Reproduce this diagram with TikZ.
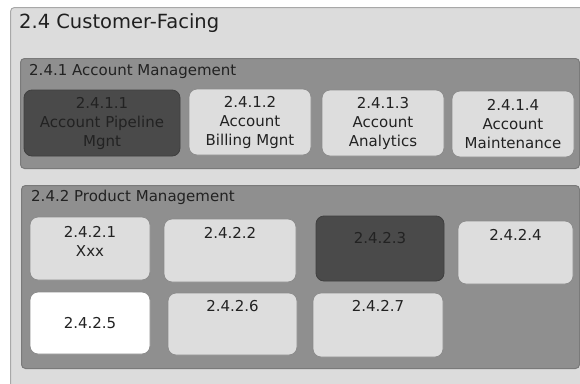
\documentclass[tikz,border=0pt]{standalone}
\usepackage{fontspec}
\setmainfont{DejaVu Sans}
\usetikzlibrary{positioning}

\definecolor{sheetfill}{HTML}{DCDCDC}
\definecolor{sheetline}{HTML}{A8A8A8}
\definecolor{groupfill}{HTML}{8F8F8F}
\definecolor{groupline}{HTML}{7A7A7A}
\definecolor{cellfill}{HTML}{DDDDDD}
\definecolor{cellline}{HTML}{8C8C8C}
\definecolor{celldark}{HTML}{4A4A4A}
\definecolor{inktext}{HTML}{222222}

\tikzset{
  sheet/.style={draw=sheetline, fill=sheetfill, line width=1pt, rounded corners=4pt,
    inner sep=0pt, anchor=north west},
  group/.style={draw=groupline, fill=groupfill, line width=1pt, rounded corners=4pt,
    inner sep=0pt, anchor=north west},
  heading/.style={anchor=west, inner sep=0pt, text=inktext},
  cell/.style={draw=cellline, fill=cellfill, line width=0.8pt, rounded corners=8pt,
    inner sep=0pt, align=center, text=inktext, font=\fontsize{15}{19}\selectfont},
  celldim/.style={cell, draw=celldark!85!black, fill=celldark},
  cellwhite/.style={cell, fill=white},
  toptext/.style={anchor=north, inner sep=0pt, align=center, text=inktext,
    font=\fontsize{15}{19}\selectfont}
}

\begin{document}
\begin{tikzpicture}[x=1pt, y=-1pt]

    \useasboundingbox (0,0) rectangle (580,383);
    \clip (0,0) rectangle (580,383);

    % Outer panel
    \node[sheet, minimum width=590pt, minimum height=400pt] (facing) at (10,7) {};
    \node[heading, font=\fontsize{19.5}{23}\selectfont, text=black!88] (facingTitle) at (19,23) {2.4 Customer-Facing};

    % Account management group
    \node[group, minimum width=559pt, minimum height=110pt] (account) at (20,58) {};
    \node[heading, font=\fontsize{15}{18}\selectfont] (accountTitle) at (29,71) {2.4.1 Account Management};

    \node[celldim, minimum width=156pt, minimum height=66pt] (pipeline) at (102,123) {2.4.1.1\\Account Pipeline\\Mgnt};
    \node[cell, minimum width=122pt, minimum height=66pt] (billing) at (250,122) {2.4.1.2\\Account\\Billing Mgnt};
    \node[cell, minimum width=122pt, minimum height=66pt] (analytics) at (383,123) {2.4.1.3\\Account\\Analytics};
    \node[cell, minimum width=122pt, minimum height=66pt] (maintenance) at (513,124) {2.4.1.4\\Account\\Maintenance};

    % Product management group
    \node[group, minimum width=558pt, minimum height=183pt] (product) at (21,185) {};
    \node[heading, font=\fontsize{15}{18}\selectfont] (productTitle) at (31,197) {2.4.2 Product Management};

    % first row
    \node[cell, minimum width=120pt, minimum height=63pt] (prodA) at (90,248.5) {};
    \node[toptext, below=9.5pt of prodA.north] (prodAText) {2.4.2.1\\Xxx};
    \node[cell, minimum width=132pt, minimum height=63pt] (prodB) at (230,250.5) {};
    \node[toptext, below=8.5pt of prodB.north] (prodBText) {2.4.2.2};
    \node[celldim, minimum width=128pt, minimum height=65pt] (prodC) at (380,248.5) {};
    \node[toptext, below=16.5pt of prodC.north] (prodCText) {2.4.2.3};
    \node[cell, minimum width=115pt, minimum height=63pt] (prodD) at (515.5,252.5) {};
    \node[toptext, below=8.5pt of prodD.north] (prodDText) {2.4.2.4};

    % second row
    \node[cellwhite, minimum width=120pt, minimum height=62pt] (prodE) at (90,323) {2.4.2.5};
    \node[cell, minimum width=129pt, minimum height=62pt] (prodF) at (232.5,324) {};
    \node[toptext, below=7.5pt of prodF.north] (prodFText) {2.4.2.6};
    \node[cell, minimum width=130pt, minimum height=64pt] (prodG) at (378,325) {};
    \node[toptext, below=7.5pt of prodG.north] (prodGText) {2.4.2.7};

\end{tikzpicture}
\end{document}
